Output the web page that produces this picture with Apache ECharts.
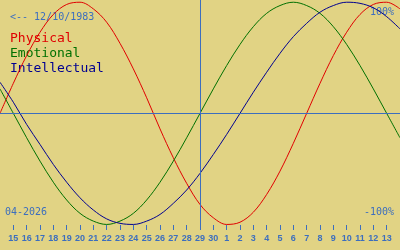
<!DOCTYPE html>
<html>
<head>
<meta charset="utf-8">
<script src="https://cdn.jsdelivr.net/npm/echarts@6/dist/echarts.min.js"></script>
<style>
html,body{margin:0;padding:0;background:#e1d384;}
#c{width:400px;height:250px;}
</style>
</head>
<body>
<div id="c"></div>
<script>
// Day labels: 14 Apr 2026 .. 14 May 2026 (first and last are edge points, unlabeled)
var days = ['14','15','16','17','18','19','20','21','22','23','24','25','26','27','28','29','30',
            '1','2','3','4','5','6','7','8','9','10','11','12','13','14'];
var todayIndex = 15; // 29
var physical = [0.00,0.27,0.52,0.73,0.89,0.98,1.00,0.94,0.82,0.63,0.40,0.14,-0.14,-0.40,-0.63,
                -0.82,-0.94,-1.00,-0.98,-0.89,-0.73,-0.52,-0.27,0.00,0.27,0.52,0.73,0.89,0.98,1.00,0.94];
var emotional = [0.22,0.00,-0.22,-0.43,-0.62,-0.78,-0.90,-0.97,-1.00,-0.97,-0.90,-0.78,-0.62,-0.43,-0.22,
                 0.00,0.22,0.43,0.62,0.78,0.90,0.97,1.00,0.97,0.90,0.78,0.62,0.43,0.22,0.00,-0.22];
var intellectual = [0.28,0.10,-0.10,-0.28,-0.46,-0.62,-0.76,-0.87,-0.95,-0.99,-1.00,-0.97,-0.91,-0.81,-0.69,
                    -0.54,-0.37,-0.19,0.00,0.19,0.37,0.54,0.69,0.81,0.91,0.97,1.00,0.99,0.95,0.87,0.76];
var birthText = '<-- 12/10/1983';
var monthText = '04-2026';
var topText = '100%';
var bottomText = '-100%';
var legendNames = ['Physical','Emotional','Intellectual'];

var BLUE = '#3c6ebe';
var colors = ['#e00000','#007000','#000090'];
var mono = '"DejaVu Sans Mono", monospace';

var chart = echarts.init(document.getElementById('c'), null, {renderer:'canvas'});
function edgeHidden(i){ return i !== 0 && i !== days.length - 1; }
var seriesData = [physical, emotional, intellectual];
var series = seriesData.map(function(d, k){
  return {
    type:'line', name: legendNames[k], data: d, smooth: 0.35, symbol:'none',
    lineStyle:{color: colors[k], width:1}, silent:true, z: 3
  };
});
series[0].markLine = {
  silent:true, symbol:'none', label:{show:false},
  lineStyle:{color: BLUE, width:1, type:'solid'},
  data:[{xAxis: todayIndex}, {yAxis: 0}]
};

chart.setOption({
  backgroundColor:'#e1d384',
  animation:false,
  grid:{left:0, right:0, top:0, height:230},
  xAxis:{
    type:'category', data: days, boundaryGap:false,
    axisLine:{show:false, onZero:false},
    axisTick:{show:true, inside:true, length:5, lineStyle:{color: BLUE, width:1},
      interval:function(i){ return edgeHidden(i); }},
    axisLabel:{show:true, margin:4, color: BLUE, fontSize:9, fontWeight:'bold',
      fontFamily:'"Liberation Sans Narrow", "Liberation Sans", Arial, sans-serif',
      interval:function(i){ return edgeHidden(i); }},
    splitLine:{show:false}
  },
  yAxis:{type:'value', min:-1.05, max:1.02, show:false, splitLine:{show:false}},
  graphic:[
    {type:'text', left:10, top:12, style:{text: birthText, font:'10px '+mono, fill: BLUE}},
    {type:'text', left:10, top:32, style:{text: legendNames[0], font:'13px '+mono, fill: colors[0]}},
    {type:'text', left:10, top:47, style:{text: legendNames[1], font:'13px '+mono, fill: colors[1]}},
    {type:'text', left:10, top:62, style:{text: legendNames[2], font:'13px '+mono, fill: colors[2]}},
    {type:'text', right:6, top:7, style:{text: topText, font:'10px '+mono, fill: BLUE}},
    {type:'text', right:6, top:207, style:{text: bottomText, font:'10px '+mono, fill: BLUE}},
    {type:'text', left:5, top:207, style:{text: monthText, font:'10px '+mono, fill: BLUE}}
  ],
  series: series
});
</script>
</body>
</html>
